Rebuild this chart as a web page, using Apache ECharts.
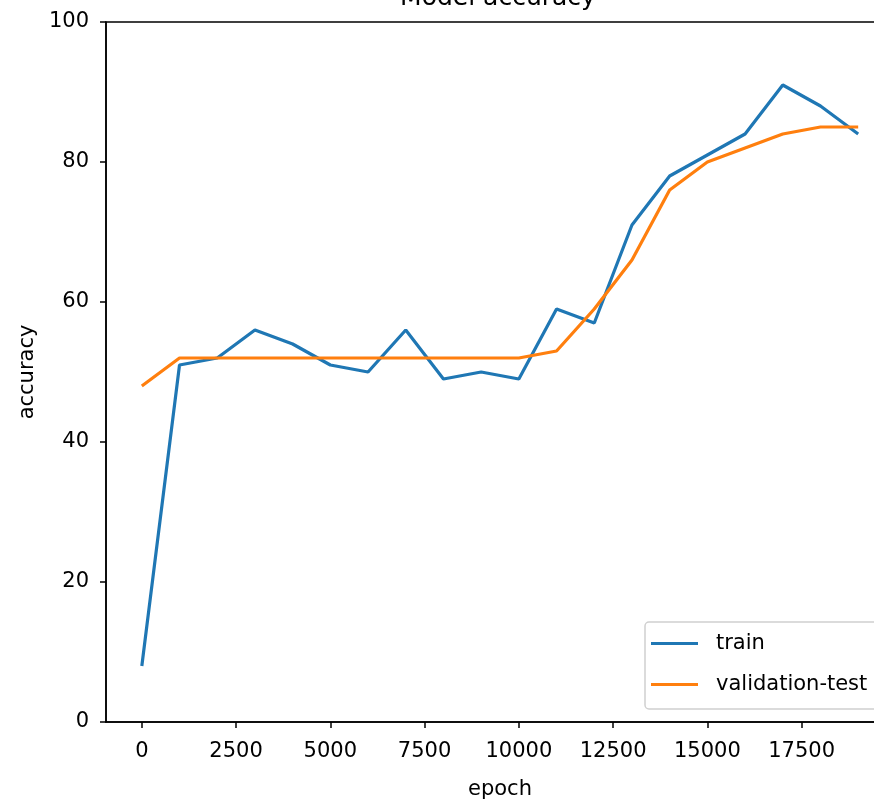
<!DOCTYPE html>
<html>
<head>
<meta charset="utf-8">
<script src="https://cdn.jsdelivr.net/npm/echarts@6/dist/echarts.min.js"></script>
<style>
  html, body { margin: 0; padding: 0; background: #fff; }
  #chart { width: 874px; height: 802px; }
</style>
</head>
<body>
<div id="chart"></div>
<script>
// data
const epochs = [0, 1000, 2000, 3000, 4000, 5000, 6000, 7000, 8000, 9000,
                10000, 11000, 12000, 13000, 14000, 15000, 16000, 17000, 18000, 19000];
const trainAcc = [8, 51, 52, 56, 54, 51, 50, 56, 49, 50,
                  49, 59, 57, 71, 78, 81, 84, 91, 88, 84];
const valAcc = [48, 52, 52, 52, 52, 52, 52, 52, 52, 52,
                52, 53, 59, 66, 76, 80, 82, 84, 85, 85];
const xTicks = [0, 2500, 5000, 7500, 10000, 12500, 15000, 17500];

const font = "'DejaVu Sans', sans-serif";
const pairs = arr => epochs.map((e, i) => [e, arr[i]]);

const chart = echarts.init(document.getElementById('chart'), null, { renderer: 'canvas' });

const option = {
    backgroundColor: '#fff',
    animation: false,
    title: {
        text: 'Model accuracy',
        left: 493,
        textAlign: 'center',
        top: -19,
        textStyle: { fontFamily: font, fontSize: 25, fontWeight: 'normal', color: '#000' }
    },
    legend: {
        orient: 'vertical',
        left: 645,
        top: 622,
        padding: [11, 30, 14, 6],
        itemGap: 20,
        itemWidth: 47,
        itemHeight: 3,
        icon: 'rect',
        borderColor: '#d0d0d0',
        borderWidth: 1.5,
        borderRadius: 4,
        textStyle: { fontFamily: font, fontSize: 21, color: '#000', padding: [0, 0, 0, 13] },
        data: ['train', 'validation-test']
    },
    grid: {
        left: 106,
        top: 22,
        width: 788,
        height: 700,
        outerBoundsMode: 'none',
        containLabel: false,
        show: true,
        borderColor: '#000',
        borderWidth: 1.5,
        backgroundColor: 'transparent'
    },
    xAxis: {
        type: 'value',
        min: -950,
        max: 19950,
        name: 'epoch',
        nameLocation: 'middle',
        nameGap: 57,
        nameTextStyle: { fontFamily: font, fontSize: 21, color: '#000' },
        axisLine: { show: true, onZero: false, lineStyle: { color: '#000', width: 1.5 } },
        axisTick: { show: true, length: 6, lineStyle: { color: '#000', width: 1.5 }, customValues: xTicks },
        axisLabel: {
            fontFamily: font, fontSize: 21, color: '#000', margin: 19,
            customValues: xTicks,
            formatter: v => String(v)
        },
        splitLine: { show: false }
    },
    yAxis: {
        type: 'value',
        min: 0,
        max: 100,
        interval: 20,
        name: 'accuracy',
        nameLocation: 'middle',
        nameGap: 67,
        nameTextStyle: { fontFamily: font, fontSize: 21, color: '#000' },
        axisLine: { show: true, onZero: false, lineStyle: { color: '#000', width: 1.5 } },
        axisTick: { show: true, length: 6, lineStyle: { color: '#000', width: 1.5 } },
        axisLabel: { fontFamily: font, fontSize: 21, color: '#000', margin: 17 },
        splitLine: { show: false }
    },
    series: [
        {
            name: 'train',
            type: 'line',
            data: pairs(trainAcc),
            showSymbol: false,
            color: '#1f77b4',
            lineStyle: { width: 3.2, color: '#1f77b4' }
        },
        {
            name: 'validation-test',
            type: 'line',
            data: pairs(valAcc),
            showSymbol: false,
            color: '#ff7f0e',
            lineStyle: { width: 3.2, color: '#ff7f0e' }
        }
    ]
};

chart.setOption(option);
</script>
</body>
</html>
